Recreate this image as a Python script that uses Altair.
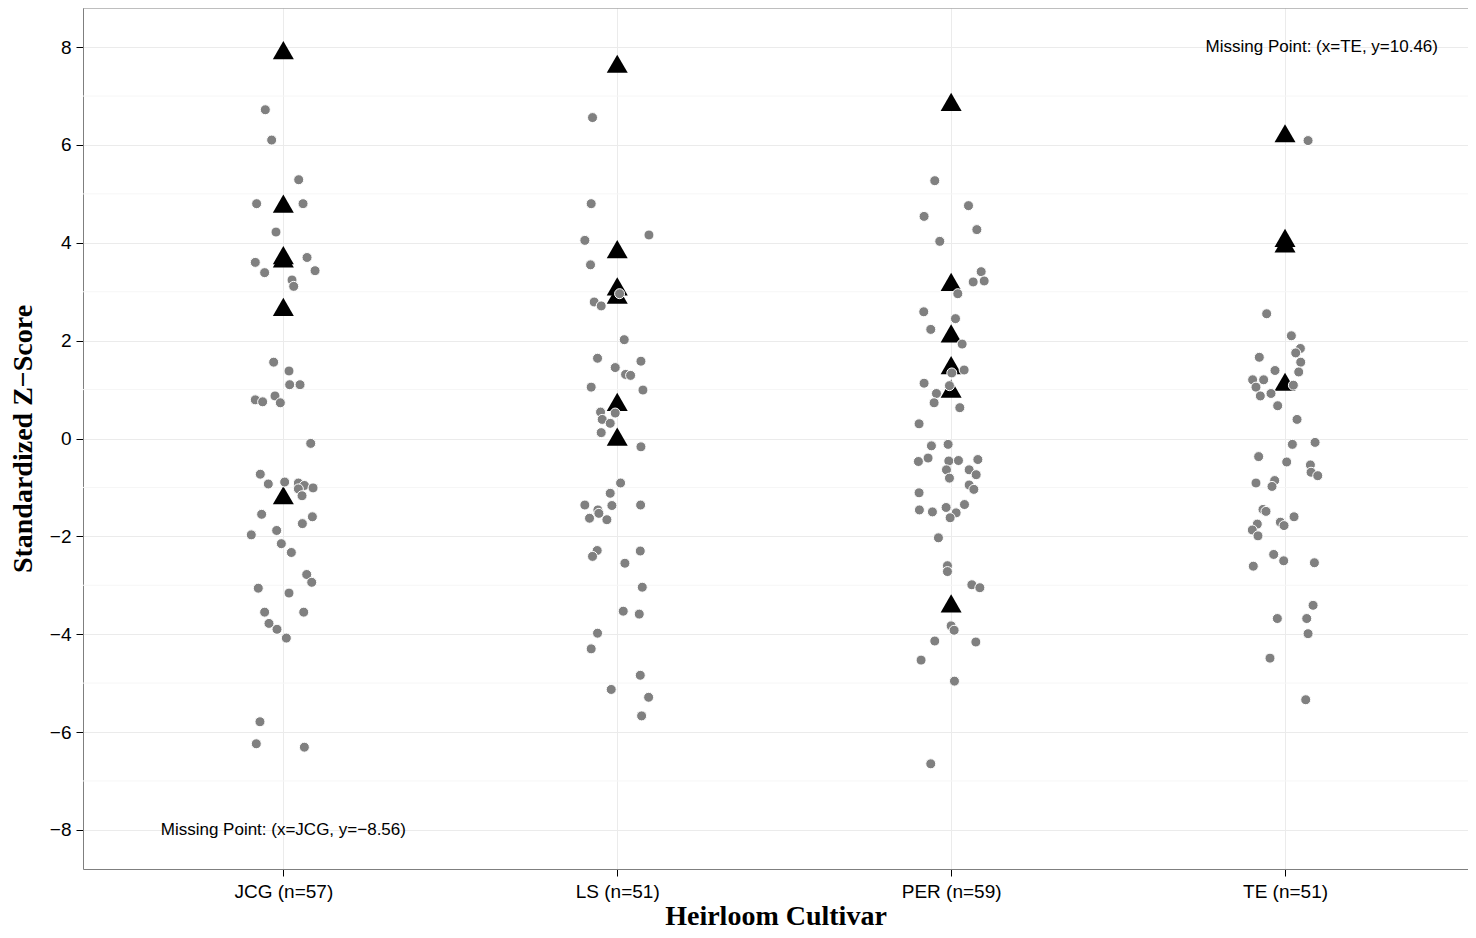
import altair as alt
import pandas as pd

# ---------------- data ----------------
cultivars = ["JCG", "LS", "PER", "TE"]
cultivar_labels = ["JCG (n=57)", "LS (n=51)", "PER (n=59)", "TE (n=51)"]

# jittered grey points: z-scores and horizontal jitter (in category units)
jcg_y = [6.72, 6.10, 5.29, 4.80, 4.80, 4.22, 3.60, 3.70, 3.39, 3.43, 3.24, 3.11, 1.56, 1.38, 1.10, 1.10,
         0.79, 0.75, 0.87, 0.73, -0.10, -0.73, -0.93, -0.89, -0.91, -0.96, -1.03, -1.01, -1.17, -1.55,
         -1.60, -1.74, -1.88, -1.97, -2.15, -2.33, -2.78, -2.94, -3.06, -3.16, -3.55, -3.55, -3.78,
         -3.90, -4.08, -5.79, -6.24, -6.31]
jcg_dx = [-0.054, -0.035, 0.046, -0.080, 0.059, -0.022, -0.084, 0.071, -0.056, 0.095, 0.026, 0.031, -0.029,
          0.017, 0.019, 0.050, -0.084, -0.062, -0.025, -0.009, 0.082, -0.069, -0.045, 0.004, 0.045, 0.063,
          0.045, 0.089, 0.056, -0.065, 0.087, 0.057, -0.020, -0.096, -0.006, 0.024, 0.070, 0.085, -0.075,
          0.017, -0.056, 0.061, -0.043, -0.019, 0.009, -0.070, -0.081, 0.063]

ls_y = [6.56, 4.80, 4.16, 4.05, 3.55, 2.96, 2.79, 2.71, 2.02, 1.64, 1.58, 1.45, 1.31, 1.29, 1.05, 0.99,
        0.54, 0.52, 0.39, 0.31, 0.12, -0.17, -0.91, -1.12, -1.36, -1.37, -1.36, -1.46, -1.53, -1.63,
        -1.66, -2.29, -2.41, -2.30, -2.55, -3.04, -3.53, -3.59, -3.98, -4.30, -4.84, -5.13, -5.29, -5.67]
ls_dx = [-0.074, -0.078, 0.095, -0.097, -0.080, 0.007, -0.069, -0.048, 0.021, -0.059, 0.071, -0.006, 0.025,
         0.040, -0.078, 0.077, -0.050, -0.006, -0.045, -0.021, -0.048, 0.071, 0.010, -0.021, -0.097, -0.016,
         0.070, -0.058, -0.055, -0.083, -0.031, -0.060, -0.074, 0.069, 0.023, 0.075, 0.018, 0.066, -0.059,
         -0.078, 0.069, -0.018, 0.094, 0.073]

per_y = [5.27, 4.76, 4.54, 4.27, 4.03, 3.41, 3.20, 3.22, 2.96, 2.59, 2.45, 2.23, 1.93, 1.40, 1.34, 1.13,
         1.08, 0.92, 0.73, 0.63, 0.30, -0.15, -0.12, -0.47, -0.40, -0.46, -0.45, -0.43, -0.64, -0.64,
         -0.74, -0.81, -0.95, -1.04, -1.11, -1.46, -1.50, -1.41, -1.35, -1.52, -1.62, -2.03, -2.60,
         -2.72, -2.99, -3.05, -3.83, -3.92, -4.14, -4.16, -4.53, -4.96, -6.65]
per_dx = [-0.049, 0.052, -0.081, 0.077, -0.034, 0.090, 0.066, 0.099, 0.020, -0.082, 0.013, -0.061, 0.033,
          0.039, 0.002, -0.081, -0.005, -0.044, -0.051, 0.026, -0.096, -0.059, -0.009, -0.098, -0.069,
          -0.007, 0.022, 0.080, -0.014, 0.054, 0.075, -0.005, 0.054, 0.068, -0.096, -0.095, -0.056, -0.015,
          0.040, 0.015, -0.003, -0.038, -0.011, -0.011, 0.062, 0.086, 0.000, 0.009, -0.049, 0.074, -0.090,
          0.010, -0.061]

te_y = [6.09, 2.55, 2.10, 1.84, 1.75, 1.66, 1.56, 1.39, 1.36, 1.20, 1.20, 1.05, 1.09, 0.92, 0.87, 0.67,
        0.39, -0.08, -0.12, -0.37, -0.48, -0.54, -0.69, -0.76, -0.91, -0.86, -0.98, -1.45, -1.49, -1.60,
        -1.75, -1.71, -1.78, -1.87, -1.99, -2.37, -2.50, -2.61, -2.54, -3.41, -3.68, -3.68, -3.99, -4.49,
        -5.34]
te_dx = [0.069, -0.055, 0.019, 0.046, 0.032, -0.077, 0.047, -0.030, 0.041, -0.097, -0.064, -0.087, 0.025,
         -0.042, -0.074, -0.022, 0.036, 0.090, 0.022, -0.079, 0.005, 0.076, 0.078, 0.098, -0.087, -0.031,
         -0.039, -0.066, -0.057, 0.027, -0.083, -0.014, -0.003, -0.098, -0.081, -0.034, -0.004, -0.095,
         0.088, 0.084, -0.023, 0.065, 0.069, -0.045, 0.062]

# black triangles (unjittered, at the category centre)
jcg_tri = [7.94, 4.80, 3.75, 3.68, 2.69, -1.16]
ls_tri = [7.66, 3.87, 3.11, 2.94, 0.75, 0.04]
per_tri = [6.88, 3.20, 2.15, 1.50, 1.02, -3.37]
te_tri = [6.24, 4.10, 3.99, 1.16]

# annotations for the out-of-range points
ann_x = [1.0, 4.11]
ann_y = [-8.0, 8.0]
ann_text = ["Missing Point: (x=JCG, y=\u22128.56)", "Missing Point: (x=TE, y=10.46)"]

y_limits = [-8.8, 8.8]
x_limits = [0.4, 4.548]
major_ticks = [-8, -6, -4, -2, 0, 2, 4, 6, 8]
minor_ticks = [-7, -5, -3, -1, 1, 3, 5, 7]

# ---------------- tables ----------------
pts_rows = []
for i, (ys, dxs) in enumerate([(jcg_y, jcg_dx), (ls_y, ls_dx), (per_y, per_dx), (te_y, te_dx)]):
    for y, dx in zip(ys, dxs):
        pts_rows.append({"cultivar": cultivars[i], "idx": i + 1, "dx": dx, "z": y})
pts = pd.DataFrame(pts_rows)

tri_rows = []
for i, ys in enumerate([jcg_tri, ls_tri, per_tri, te_tri]):
    for y in ys:
        tri_rows.append({"cultivar": cultivars[i], "idx": i + 1, "z": y})
tri = pd.DataFrame(tri_rows)

ann = pd.DataFrame({"x": ann_x, "y": ann_y, "label": ann_text})
minor = pd.DataFrame({"v": minor_ticks})

label_expr = "[" + ",".join("'" + s + "'" for s in cultivar_labels) + "][datum.value - 1]"

x_scale = alt.Scale(domain=x_limits, nice=False, zero=False)
y_scale = alt.Scale(domain=y_limits, nice=False, zero=False)

x_axis = alt.Axis(
    values=[1, 2, 3, 4], labelExpr=label_expr, title="Heirloom Cultivar",
    grid=True, gridColor="#ebebeb", gridWidth=1,
    domainColor="#7f7f7f", domainWidth=1, tickColor="#000000", tickSize=7, tickWidth=1,
    labelFont="Liberation Sans", labelFontSize=19, labelColor="#000000", labelPadding=6,
    titleFont="Liberation Serif", titleFontSize=28, titleFontWeight="bold", titleColor="#000000",
    titlePadding=1,
)
y_axis = alt.Axis(
    values=major_ticks, format="d", title="Standardized Z\u2212Score",
    grid=True, gridColor="#ebebeb", gridWidth=1,
    domainColor="#7f7f7f", domainWidth=1, tickColor="#000000", tickSize=7, tickWidth=1,
    labelFont="Liberation Sans", labelFontSize=19, labelColor="#000000", labelPadding=5,
    titleFont="Liberation Serif", titleFontSize=28, titleFontWeight="bold", titleColor="#000000",
    titlePadding=12,
)

minor_grid = alt.Chart(minor).mark_rule(color="#f6f6f6", strokeWidth=1).encode(
    y=alt.Y("v:Q", scale=y_scale, axis=y_axis),
)

top_border = alt.Chart(pd.DataFrame({"t": [y_limits[1]]})).mark_rule(color="#7f7f7f", strokeWidth=1).encode(
    y=alt.Y("t:Q", scale=y_scale),
)

triangles = alt.Chart(tri).mark_point(
    shape="triangle-up", filled=True, size=441, color="#000000", opacity=1
).encode(
    x=alt.X("idx:Q", scale=x_scale, axis=x_axis),
    y=alt.Y("z:Q", scale=y_scale),
)

points = alt.Chart(pts).transform_calculate(
    xpos="datum.idx + datum.dx"
).mark_circle(
    size=100, color="#808080", opacity=1, stroke="#ffffff", strokeWidth=1
).encode(
    x=alt.X("xpos:Q", scale=x_scale),
    y=alt.Y("z:Q", scale=y_scale),
)

texts = alt.Chart(ann).mark_text(
    font="Liberation Sans", fontSize=17, color="#000000", align="center", baseline="middle"
).encode(
    x=alt.X("x:Q", scale=x_scale),
    y=alt.Y("y:Q", scale=y_scale),
    text="label:N",
)

chart = alt.layer(minor_grid, top_border, triangles, points, texts).properties(
    width=1385,
    height=861,
    autosize=alt.AutoSizeParams(type="none"),
    padding={"left": 75, "top": 0, "right": 0, "bottom": 61},
    background="#ffffff",
).configure_view(strokeWidth=0)

chart.save("out.html", embed_options={"renderer": "svg", "actions": False})
